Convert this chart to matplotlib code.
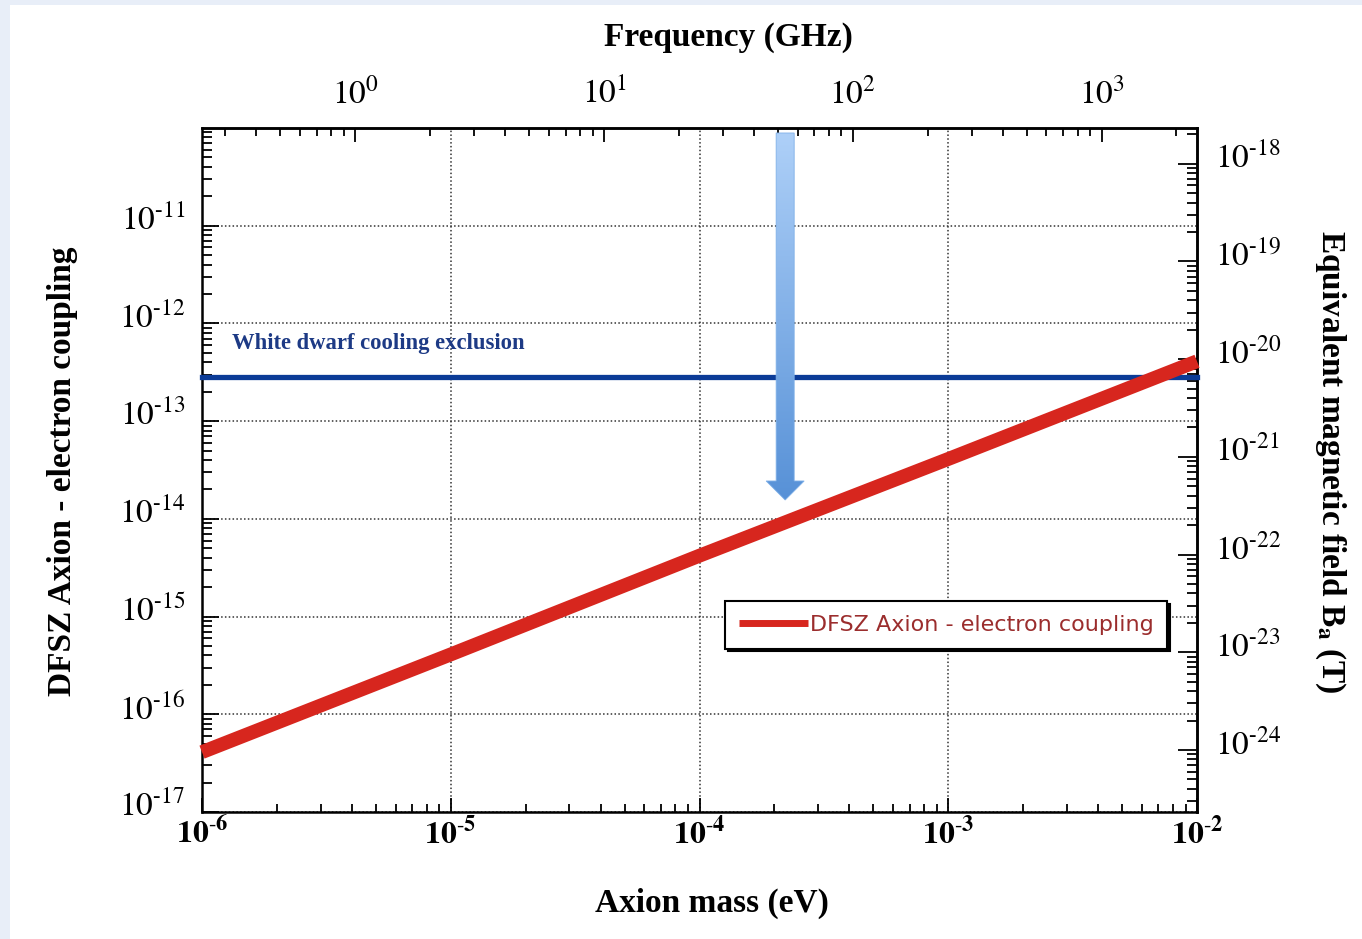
import numpy as np
import matplotlib
matplotlib.use("Agg")
import matplotlib.pyplot as plt
import matplotlib.transforms as mtransforms
from matplotlib.ticker import LogLocator, FixedLocator, FuncFormatter, NullFormatter
from matplotlib.patches import Rectangle, Polygon
from matplotlib.colors import LinearSegmentedColormap

plt.rcParams['font.family'] = ['Liberation Serif', 'DejaVu Serif']
plt.rcParams['mathtext.fontset'] = 'stix'

# axion mass (eV) and DFSZ axion-electron coupling
masses_ev = [1e-6, 1e-5, 1e-4, 1e-3, 1e-2]
dfsz_coupling = [4.1e-17, 4.1e-16, 4.2e-15, 4.1e-14, 4.1e-13]

# white dwarf cooling bound on the coupling
wd_mass_range = [1e-6, 1e-2]
wd_limit = [2.8e-13, 2.8e-13]

# arrow pointing down to the DFSZ line
arrow_mass = 2.21e-4
arrow_tip_coupling = 1.56e-14

# tick positions
mass_ticks = [1e-6, 1e-5, 1e-4, 1e-3, 1e-2]
coupling_ticks = [1e-17, 1e-16, 1e-15, 1e-14, 1e-13, 1e-12, 1e-11]
freq_ticks = [1, 10, 100, 1000]
field_ticks = [1e-24, 1e-23, 1e-22, 1e-21, 1e-20, 1e-19, 1e-18]

GHZ_PER_EV = 2.418e5      # E = h f
TESLA_PER_COUPLING = 2.32e-8

red = '#d7261e'
blue = '#0b3b97'

W, H = 1362, 939
fig = plt.figure(figsize=(W / 100, H / 100), dpi=100, facecolor='#e8eef8')
fig.patches.append(Rectangle((10 / W, 0), 1, (H - 5) / H, transform=fig.transFigure,
                             facecolor='white', edgecolor='none', zorder=-10))

ax = fig.add_axes([202 / W, (H - 812) / H, 995 / W, 684 / H])
ax.set_xscale('log')
ax.set_yscale('log')

ax.plot(masses_ev, dfsz_coupling, color=red, lw=10, solid_capstyle='butt',
        clip_on=False, zorder=4, label='DFSZ Axion - electron coupling')
ax.plot(wd_mass_range, wd_limit, color=blue, lw=3.8, clip_on=False, zorder=3)
ax.text(1.32e-6, 6.3e-13, 'White dwarf cooling exclusion', color='#1d3a85',
        fontsize=16.3, fontweight='bold', va='center', ha='left')

ax.set_xlim(1e-6, 1e-2)
ax.set_ylim(1e-17, 1e-10)


def sci(v, pos):
    e = int(round(np.log10(v)))
    if e < 0:
        return rf'$10^{{\text{{-}}{-e}}}$'
    return rf'$10^{{{e}}}$'


def sci_bold(v, pos):
    e = int(round(np.log10(v)))
    return rf'$\mathbf{{10^{{\text{{-}}{-e}}}}}$'


ax.xaxis.set_major_locator(FixedLocator(mass_ticks))
ax.xaxis.set_minor_locator(LogLocator(base=10, subs=np.arange(2, 10), numticks=20))
ax.yaxis.set_major_locator(FixedLocator(coupling_ticks))
ax.yaxis.set_minor_locator(LogLocator(base=10, subs=np.arange(2, 10), numticks=30))
ax.xaxis.set_major_formatter(FuncFormatter(sci_bold))
ax.yaxis.set_major_formatter(FuncFormatter(sci))
ax.xaxis.set_minor_formatter(NullFormatter())
ax.yaxis.set_minor_formatter(NullFormatter())

ax.tick_params(axis='both', which='both', direction='in', width=1.3, colors='black')
ax.tick_params(axis='x', which='major', length=10, labelsize=23, pad=4)
ax.tick_params(axis='x', which='minor', length=6)
ax.tick_params(axis='y', which='major', length=12, labelsize=24, pad=12)
ax.tick_params(axis='y', which='minor', length=7)
ax.tick_params(top=False, right=False, which='both')

for s in ax.spines.values():
    s.set_linewidth(1.8)

ax.grid(True, which='major', linestyle=(0, (1, 1.5)), color='#333333', lw=1.1)

ax.set_xlabel('Axion mass (eV)', fontsize=24, fontweight='bold', va='center')
ax.xaxis.set_label_coords(0.513, -0.133)
ax.set_ylabel('DFSZ Axion - electron coupling', fontsize=24, fontweight='bold', va='center')
ax.yaxis.set_label_coords(-0.1407, 0.4985)

# frequency scale on top
top = ax.secondary_xaxis('top', functions=(lambda m: m * GHZ_PER_EV,
                                            lambda f: f / GHZ_PER_EV))
top.xaxis.set_major_locator(FixedLocator(freq_ticks))
top.xaxis.set_major_formatter(FuncFormatter(sci))
top.xaxis.set_minor_formatter(NullFormatter())
top.tick_params(which='both', direction='in', width=1.3)
top.tick_params(which='major', length=10, labelsize=24, pad=13)
top.tick_params(which='minor', length=6)
top.spines['top'].set_linewidth(1.8)
top.set_xlabel('Frequency (GHz)', fontsize=24, fontweight='bold', va='center')
top.xaxis.set_label_coords(0.5286, 1.1316, transform=ax.transAxes)

# equivalent magnetic field on the right
right = ax.secondary_yaxis('right', functions=(lambda g: g * TESLA_PER_COUPLING,
                                                lambda b: b / TESLA_PER_COUPLING))
right.yaxis.set_major_locator(FixedLocator(field_ticks))
right.yaxis.set_major_formatter(FuncFormatter(sci))
right.yaxis.set_minor_formatter(NullFormatter())
right.tick_params(which='both', direction='in', width=1.3)
right.tick_params(which='major', length=14, labelsize=24, pad=13)
right.tick_params(which='minor', length=7)
right.spines['right'].set_linewidth(1.8)
right.set_ylabel(r'Equivalent magnetic field B$_{\mathbf{a}}$ (T)', fontsize=24,
                 fontweight='bold', rotation=270, va='center')
right.yaxis.set_label_coords(1.1337, 0.512, transform=ax.transAxes)

# legend with a solid drop shadow
leg = ax.legend(loc='upper left', bbox_to_anchor=(0.5256, 0.3085), borderaxespad=0,
                fancybox=False, shadow={'color': 'black', 'alpha': 1},
                handlelength=3.1, handletextpad=0.1, borderpad=0.62,
                prop={'family': 'DejaVu Sans', 'size': 16})
leg.get_frame().set_edgecolor('black')
leg.get_frame().set_linewidth(1.5)
leg.get_texts()[0].set_color('#9b2d2d')
leg.get_lines()[0].set_linewidth(5)
leg.set_zorder(6)

# gradient-filled arrow built in pixel space around the data point
fig.canvas.draw()
tip_px = ax.transData.transform((arrow_mass, arrow_tip_coupling))
top_px_y = ax.transAxes.transform((0, 1))[1] - 5
cx, ty = tip_px
shaft, head, head_len = 9, 19, 19
verts_px = [(cx - shaft, top_px_y), (cx + shaft, top_px_y),
            (cx + shaft, ty + head_len), (cx + head, ty + head_len),
            (cx, ty), (cx - head, ty + head_len), (cx - shaft, ty + head_len)]
verts_ax = ax.transAxes.inverted().transform(verts_px)
arrow = Polygon(verts_ax, closed=True, transform=ax.transAxes, facecolor='none',
                edgecolor='#7fb0e8', lw=0.6, zorder=7)
ax.add_patch(arrow)
x0, y0 = verts_ax.min(axis=0)
x1, y1 = verts_ax.max(axis=0)
cmap = LinearSegmentedColormap.from_list('arrowgrad', ['#5791d7', '#aed0f8'])
grad = np.linspace(0, 1, 256).reshape(-1, 1)
im = ax.imshow(grad, cmap=cmap, origin='lower', aspect='auto', extent=(x0, x1, y0, y1),
               transform=ax.transAxes, zorder=6.5, interpolation='bilinear')
im.set_clip_path(arrow)
ax.set_xlim(1e-6, 1e-2)
ax.set_ylim(1e-17, 1e-10)

# vertical tick labels sit a little above their ticks
lift = mtransforms.ScaledTranslation(0, 6 / 72, fig.dpi_scale_trans)
for axis in (ax.yaxis, right.yaxis):
    for t in axis.get_major_ticks():
        t.label1.set_transform(t.label1.get_transform() + lift)
        t.label2.set_transform(t.label2.get_transform() + lift)

fig.savefig('out.png', dpi=100, facecolor=fig.get_facecolor())
